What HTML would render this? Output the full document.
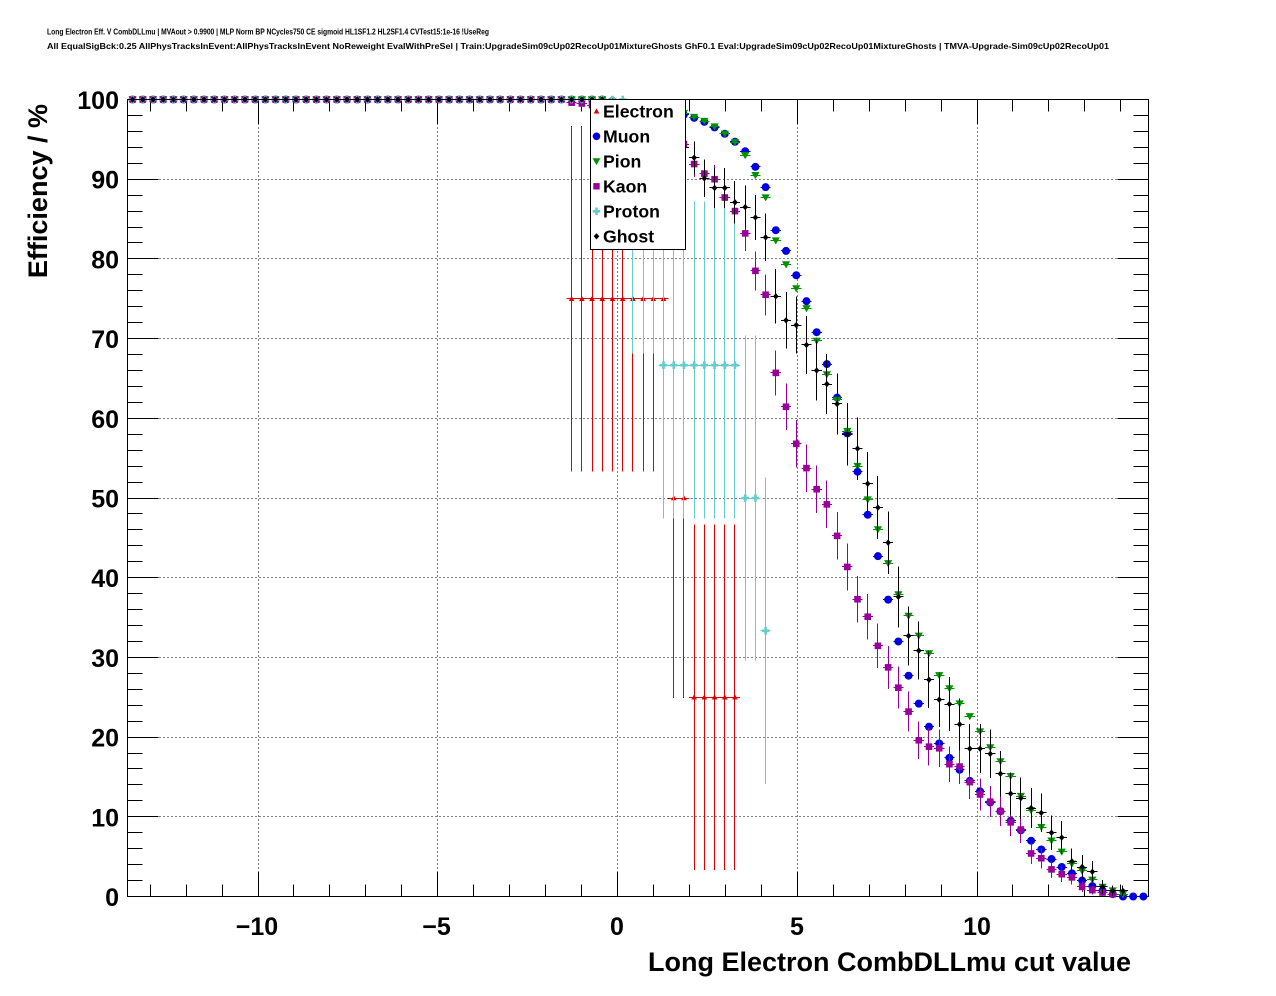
<!DOCTYPE html>
<html><head><meta charset="utf-8">
<style>
html,body{margin:0;padding:0;background:#fff;}
svg{display:block;}
text{font-family:"Liberation Sans",Arial,Helvetica,sans-serif;font-weight:bold;fill:#000;}
</style></head><body>
<svg id="c" xmlns="http://www.w3.org/2000/svg" width="1276" height="996" viewBox="0 0 1276 996">
<rect width="1276" height="996" fill="#fff"/>
<text x="47" y="34.5" font-size="8.5" textLength="442" lengthAdjust="spacingAndGlyphs">Long Electron Eff. V CombDLLmu | MVAout &gt; 0.9900 | MLP Norm BP NCycles750 CE sigmoid HL1SF1.2 HL2SF1.4 CVTest15:1e-16 !UseReg</text>
<text x="47" y="49" font-size="8.5" textLength="1062" lengthAdjust="spacingAndGlyphs">All EqualSigBck:0.25 AllPhysTracksInEvent:AllPhysTracksInEvent NoReweight EvalWithPreSel | Train:UpgradeSim09cUp02RecoUp01MixtureGhosts GhF0.1 Eval:UpgradeSim09cUp02RecoUp01MixtureGhosts | TMVA-Upgrade-Sim09cUp02RecoUp01</text>
<g id="grid"></g>
<rect x="127.5" y="99.5" width="1021" height="797" fill="none" stroke="#000" stroke-width="1" shape-rendering="crispEdges"/>
<g id="axes"></g>
<g id="data"></g>
<!-- legend -->
<rect x="590.5" y="99.5" width="95" height="150" fill="#fff" stroke="#000" stroke-width="1" shape-rendering="crispEdges"/>
<polygon points="593.7,113.5 599.3,113.5 596.5,108.4" fill="#dd0000"/>
<circle cx="596.5" cy="136.3" r="3.8" fill="#0000dd"/>
<polygon points="592.6,158.3 600.4,158.3 596.5,165.1" fill="#009000"/>
<rect x="593.3" y="183.1" width="6.4" height="6.4" fill="#990099"/>
<path d="M595.2,207.5h2.6v2.5h2.5v2.6h-2.5v2.5h-2.6v-2.5h-2.5v-2.6h2.5z" fill="#66cccc"/>
<polygon points="596.5,233.1 599.3,236.3 596.5,239.5 593.7,236.3" fill="#000"/>
<text x="603" y="117.5" font-size="17.7">Electron</text>
<text x="603" y="142.5" font-size="17.7">Muon</text>
<text x="603" y="167.5" font-size="17.7">Pion</text>
<text x="603" y="192.5" font-size="17.7">Kaon</text>
<text x="603" y="217.5" font-size="17.7">Proton</text>
<text x="603" y="242.5" font-size="17.7">Ghost</text>
<!-- y tick labels -->
<g font-size="25" text-anchor="end">
<text x="119" y="109">100</text>
<text x="119" y="188.7">90</text>
<text x="119" y="268.4">80</text>
<text x="119" y="348.1">70</text>
<text x="119" y="427.8">60</text>
<text x="119" y="507.5">50</text>
<text x="119" y="587.2">40</text>
<text x="119" y="666.9">30</text>
<text x="119" y="746.6">20</text>
<text x="119" y="826.3">10</text>
<text x="119" y="906">0</text>
</g>
<!-- x tick labels -->
<g font-size="25" text-anchor="middle">
<text x="257" y="935">−10</text>
<text x="436.5" y="935">−5</text>
<text x="617" y="935">0</text>
<text x="797" y="935">5</text>
<text x="977" y="935">10</text>
</g>
<text x="1131" y="971" font-size="27" text-anchor="end">Long Electron CombDLLmu cut value</text>
<text transform="translate(47,104) rotate(-90)" font-size="27" text-anchor="end">Efficiency / %</text>
</svg>
<script>
(function(){
const NS="http://www.w3.org/2000/svg";
const X=i=>127.5+10.21*(i+0.5);
const Y=v=>896.5-7.97*v;
function el(tag,a,p){const e=document.createElementNS(NS,tag);for(const k in a)e.setAttribute(k,a[k]);p.appendChild(e);return e;}
const grid=document.getElementById('grid');
const axes=document.getElementById('axes');
const data=document.getElementById('data');
const R=v=>Math.round(v-0.5)+0.5;
[-10,-5,0,5,10].forEach(u=>{const x=R(617.5+35.95*u);
 el('line',{x1:x,y1:99.5,x2:x,y2:896.5,stroke:'#000','stroke-width':1,'stroke-dasharray':'1 3','shape-rendering':'crispEdges'},grid);});
for(let v=10;v<100;v+=10){const y=R(Y(v));
 el('line',{x1:127.5,y1:y,x2:1148.5,y2:y,stroke:'#000','stroke-width':1,'stroke-dasharray':'1 3','shape-rendering':'crispEdges'},grid);}
for(let u=-13;u<=14;u++){const x=R(617.5+35.95*u);const L=(u%5===0)?24:12;
 el('line',{x1:x,y1:896.5,x2:x,y2:896.5-L,stroke:'#000','stroke-width':1,'shape-rendering':'crispEdges'},axes);
 el('line',{x1:x,y1:99.5,x2:x,y2:99.5+L,stroke:'#000','stroke-width':1,'shape-rendering':'crispEdges'},axes);}
for(let v=0;v<=100;v+=2){const y=R(Y(v));const L=(v%10===0)?31:15;
 el('line',{x1:127.5,y1:y,x2:127.5+L,y2:y,stroke:'#000','stroke-width':1,'shape-rendering':'crispEdges'},axes);
 el('line',{x1:1148.5,y1:y,x2:1148.5-L,y2:y,stroke:'#000','stroke-width':1,'shape-rendering':'crispEdges'},axes);}
function build(n100,start,tail){const a=[];for(let i=0;i<n100;i++)a[i]=100;tail.forEach((v,k)=>a[start+k]=v);return a;}
const mu=build(47,47,[99.8,99.6,99.4,99.2,99.0,98.7,98.4,98.1,97.7,97.2,96.5,95.7,94.7,93.5,91.55,89.0,83.6,81.0,77.95,74.7,70.8,66.8,62.6,58.1,53.3,47.9,42.7,37.25,32.0,27.7,24.2,21.3,19.2,17.4,15.9,14.5,13.2,11.8,10.7,9.5,8.3,7.0,5.9,4.7,3.7,2.9,2.0,1.3,0.75,0.3,0,0,0]);
const pi=build(47,47,[99.8,99.6,99.4,99.2,99.0,98.8,98.6,98.3,97.8,97.3,96.6,95.7,94.65,93.0,90.5,87.7,82.3,79.3,76.3,73.8,69.7,65.5,62.3,58.4,54.0,49.8,46.05,41.8,37.9,35.2,32.7,30.5,27.75,26.1,24.2,22.6,20.7,18.7,16.95,15.1,12.6,10.8,8.7,7.0,5.6,4.1,3.2,2.1,1.2,0.75,0.25]);
const ka=build(43,43,[99.6,99.5,99.3,99.0,98.5,98.0,97.3,96.8,96.2,95.6,95.0,94.4,91.9,90.7,90.0,87.7,86.0,83.2,78.5,75.5,65.7,61.45,56.8,53.75,51.1,49.2,45.25,41.35,37.3,35.1,31.45,28.75,26.2,23.2,19.6,18.8,18.6,16.6,16.3,14.35,12.8,11.9,10.7,9.3,8.4,5.4,4.8,3.4,2.8,2.4,1.2,0.8,0.5,0.3]);
const gh=build(47,47,[99.6,99.2,98.6,97.8,97.0,96.0,95.0,94.0,92.7,90.1,88.9,88.9,87.1,86.5,85.2,82.7,75.3,72.3,71.7,69.2,66.0,64.3,61.8,58.0,56.2,51.8,48.8,44.4,37.6,32.7,30.85,27.2,24.7,24.15,21.6,18.55,18.55,17.9,15.4,12.9,12.35,11.1,10.5,8.0,7.4,4.4,3.7,3.1,1.2,0.7,0.7]);
const el_v=[],el_e=[];
for(let i=0;i<60;i++){
 if(i<43){el_v[i]=100;el_e[i]=[100,100];}
 else if(i<53){el_v[i]=75;el_e[i]=[53.35,96.65];}
 else if(i<55){el_v[i]=50;el_e[i]=[24.9,75.1];}
 else {el_v[i]=25;el_e[i]=[3.35,46.65];}
}
const pr_v=[],pr_e=[];
for(let i=0;i<63;i++){
 if(i<49){pr_v[i]=100;pr_e[i]=[100,100];}
 else if(i<52){pr_v[i]=90;pr_e[i]=[68.1,100];}
 else if(i<60){pr_v[i]=66.67;pr_e[i]=[47.4,87.2];}
 else if(i<62){pr_v[i]=50;pr_e[i]=[29.6,70.4];}
 else {pr_v[i]=33.33;pr_e[i]=[14.1,52.6];}
}
function binom(N){return (v)=>{const p=v/100;const e=100*Math.sqrt(Math.max(p*(1-p),0)/N);return [v-e,v+e];};}
function mk(t,x,y,c,g){
 switch(t){
 case 'tu': el('polygon',{points:`${x-2.8},${y+2.2} ${x+2.8},${y+2.2} ${x},${y-2.9}`,fill:c},g);break;
 case 'c': el('circle',{cx:x,cy:y,r:4.0,fill:c},g);break;
 case 'td': el('polygon',{points:`${x-4.1},${y-3.2} ${x+4.1},${y-3.2} ${x},${y+3.9}`,fill:c},g);break;
 case 's': el('rect',{x:x-3.3,y:y-3.3,width:6.6,height:6.6,fill:c},g);break;
 case 'x': el('path',{d:`M${x-1.3},${y-3.8}h2.6v2.5h2.5v2.6h-2.5v2.5h-2.6v-2.5h-2.5v-2.6h2.5z`,fill:c},g);break;
 case 'd': el('polygon',{points:`${x},${y-3.2} ${x+2.8},${y} ${x},${y+3.2} ${x-2.8},${y}`,fill:c},g);break;
 }
}
const series=[
 {c:'#dd0000',m:'tu',v:el_v,e:i=>el_e[i]},
 {c:'#0000dd',m:'c',v:mu,e:(i)=>binom(40000)(mu[i])},
 {c:'#009000',m:'td',v:pi,e:(i)=>binom(12000)(pi[i])},
 {c:'#990099',m:'s',v:ka,e:(i)=>binom(280)(ka[i])},
 {c:'#66cccc',m:'x',v:pr_v,e:i=>pr_e[i]},
 {c:'#000000',m:'d',v:gh,e:(i)=>binom(160)(gh[i])}
];
series.forEach(s=>{
 const g=el('g',{},data);
 for(let i=0;i<100;i++){const v=s.v[i];if(v===undefined)continue;
  const x=X(i),y=Y(v),lx=R(x),ly=R(y);
  const [lo,hi]=s.e(i);
  if(hi-lo>0.05) el('line',{x1:lx,y1:Y(hi),x2:lx,y2:Y(lo),stroke:s.c,'stroke-width':1.1,'shape-rendering':'crispEdges'},g);
  el('line',{x1:x-5.1,y1:ly,x2:x+5.1,y2:ly,stroke:s.c,'stroke-width':1.1,'shape-rendering':'crispEdges'},g);
 }
 for(let i=0;i<100;i++){const v=s.v[i];if(v===undefined)continue;mk(s.m,X(i),Y(v),s.c,g);}
});
})();
</script>
</body></html>
